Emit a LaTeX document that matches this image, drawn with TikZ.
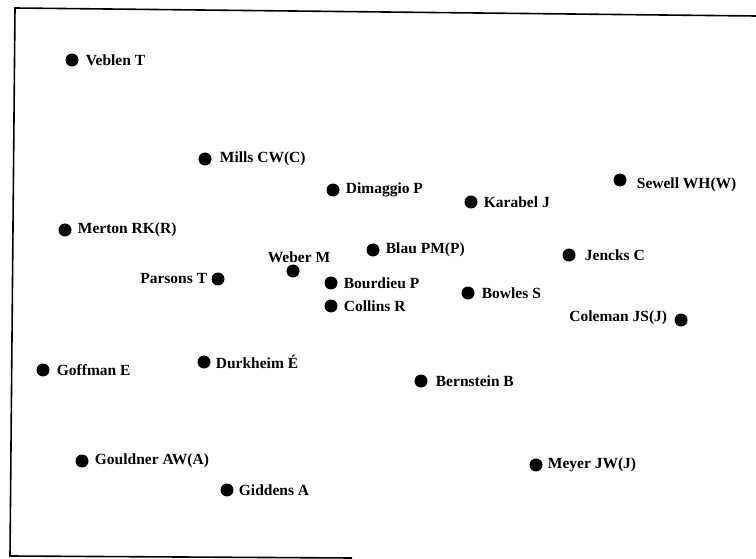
\documentclass[tikz,border=0pt]{standalone}
\usepackage{fontspec}
\setmainfont{Liberation Serif}
\usetikzlibrary{positioning}
\tikzset{
  authordot/.style={circle, fill=black, inner sep=0pt, minimum size=13pt},
  authorname/.style={inner sep=0pt, font=\fontsize{15.5}{18}\selectfont\bfseries},
  frameline/.style={line width=1.6pt}
}
\begin{document}
\begin{tikzpicture}[x=1pt, y=-1pt]
\useasboundingbox (0,0) rectangle (756,559);
% frame (right side open, as scanned)
\draw[frameline] (756,16) -- (15,8) -- (10,556) -- (352,558);
% authors
\foreach \nm/\x/\y in {veblen/72/60, mills/205/159, dimaggio/333/190,
    karabel/471/202, sewell/620/180, merton/65/230, blau/373/250,
    jencks/569/255, weber/293/271, parsons/218/279, bourdieu/331/283,
    collins/331/306, bowles/468/293, coleman/681/320, goffman/43/370,
    durkheim/204/362, bernstein/421/381, gouldner/82/461,
    meyer/536/465, giddens/227/490}
  \node[authordot] (\nm) at (\x,\y) {};
% labels
\node[authorname, right=7pt of veblen] (veblen-l) {Veblen T};
\node[authorname, right=8pt of mills] (mills-l) {Mills CW(C)};
\node[authorname, right=6pt of dimaggio] (dimaggio-l) {Dimaggio P};
\node[authorname, right=6pt of karabel] (karabel-l) {Karabel J};
\node[authorname, right=10pt of sewell, yshift=-5pt] (sewell-l) {Sewell WH(W)};
\node[authorname, right=6pt of merton] (merton-l) {Merton RK(R)};
\node[authorname, right=6pt of blau] (blau-l) {Blau PM(P)};
\node[authorname, right=9pt of jencks] (jencks-l) {Jencks C};
\node[authorname, above=1pt of weber, xshift=6pt] (weber-l) {Weber M};
\node[authorname, left=4pt of parsons] (parsons-l) {Parsons T};
\node[authorname, right=6pt of bourdieu] (bourdieu-l) {Bourdieu P};
\node[authorname, right=6pt of collins] (collins-l) {Collins R};
\node[authorname, right=7pt of bowles] (bowles-l) {Bowles S};
\node[authorname, left=7pt of coleman, yshift=2pt] (coleman-l) {Coleman JS(J)};
\node[authorname, right=7pt of goffman] (goffman-l) {Goffman E};
\node[authorname, right=5pt of durkheim] (durkheim-l) {Durkheim É};
\node[authorname, right=8pt of bernstein] (bernstein-l) {Bernstein B};
\node[authorname, right=6pt of gouldner] (gouldner-l) {Gouldner AW(A)};
\node[authorname, right=5pt of meyer] (meyer-l) {Meyer JW(J)};
\node[authorname, right=5pt of giddens] (giddens-l) {Giddens A};
\end{tikzpicture}
\end{document}
